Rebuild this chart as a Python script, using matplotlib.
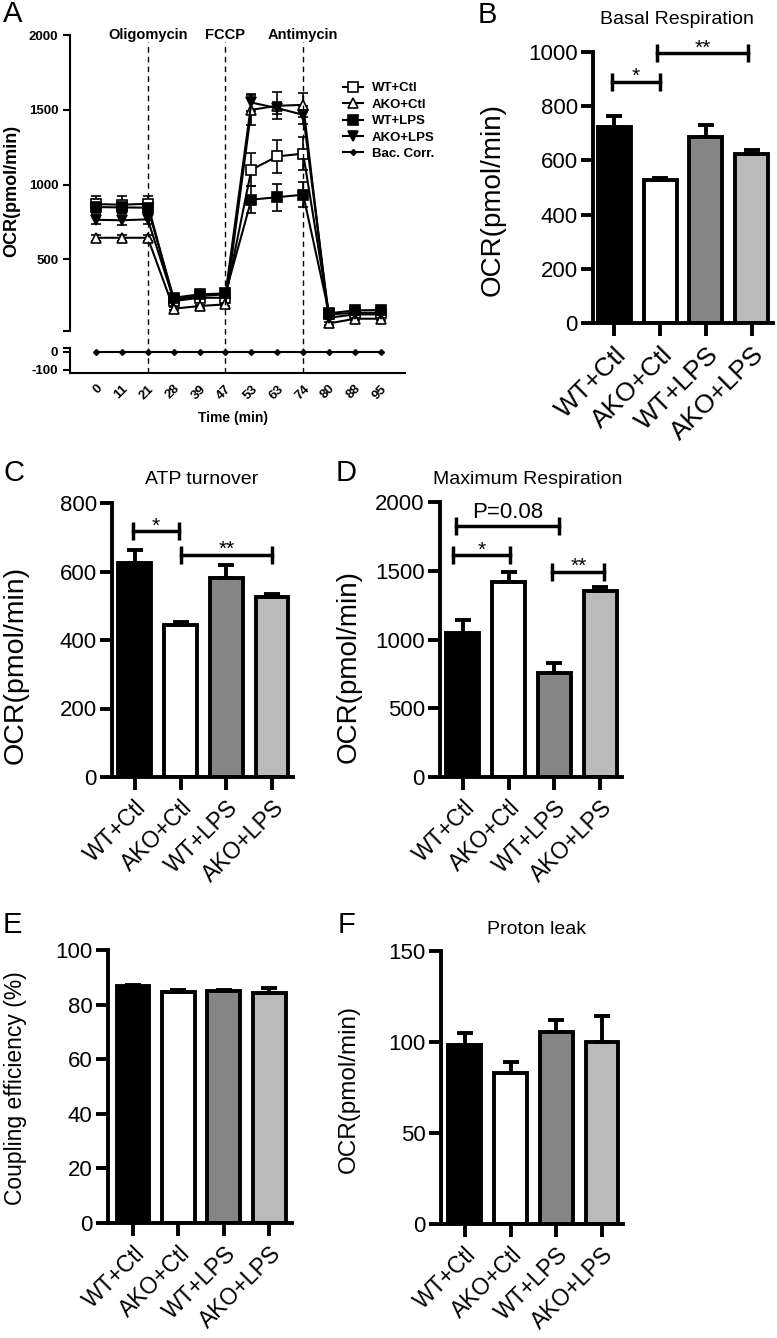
import matplotlib
matplotlib.use("Agg")
import matplotlib.pyplot as plt
import matplotlib.transforms as mtransforms
import numpy as np

plt.rcParams["font.family"] = ["Liberation Sans", "DejaVu Sans"]

W, H = 777, 1338

# ---- panel A: Seahorse trace -------------------------------------------
time_labels = ["0", "11", "21", "28", "39", "47", "53", "63", "74", "80", "88", "95"]
injections = ["Oligomycin", "FCCP", "Antimycin"]
injection_idx = [2, 5, 8]

wt_ctl = [870, 866, 872, 222, 244, 244, 1100, 1189, 1207, 133, 144, 144]
wt_ctl_err = [55, 55, 55, 15, 15, 15, 110, 110, 110, 15, 15, 15]
ako_ctl = [645, 645, 645, 171, 189, 200, 1500, 1527, 1533, 73, 104, 104]
ako_ctl_err = [20, 20, 20, 10, 10, 10, 100, 90, 80, 10, 10, 10]
wt_lps = [850, 848, 846, 244, 267, 273, 900, 916, 933, 140, 160, 162]
wt_lps_err = [40, 40, 40, 15, 15, 15, 90, 90, 85, 12, 12, 12]
ako_lps = [765, 762, 768, 233, 256, 267, 1549, 1511, 1467, 111, 133, 133]
ako_lps_err = [30, 30, 30, 12, 12, 12, 55, 40, 60, 12, 12, 12]
bac_corr = [0, 0, 0, 0, 0, 0, 0, 0, 0, 0, 0, 0]

# ---- bar panels ------------------------------------------------------------
groups = ["WT+Ctl", "AKO+Ctl", "WT+LPS", "AKO+LPS"]
bar_colors = ["#000000", "#ffffff", "#858585", "#bababa"]

basal = [725, 528, 685, 625]
basal_err = [40, 6, 45, 13]
atp = [625, 445, 580, 525]
atp_err = [38, 7, 40, 9]
maxresp = [1050, 1420, 760, 1350]
maxresp_err = [90, 68, 72, 32]
coupling = [86.8, 84.7, 84.8, 84.4]
coupling_err = [0.3, 0.8, 0.5, 1.5]
leak = [98.5, 83, 105.5, 100]
leak_err = [6.5, 6, 6.5, 14.5]

# brackets: (x1, x2, y, label)
basal_sig = [(-0.04, 0.99, 890, "*"), (0.93, 2.92, 995, "**")]
atp_sig = [(-0.04, 0.96, 717, "*"), (1.02, 2.99, 649, "**")]
max_sig = [(-0.15, 2.11, 1823, "P=0.08"), (-0.22, 1.04, 1612, "*"), (1.96, 3.09, 1491, "**")]


def box(l, t, r, b):
    return [l / W, 1 - b / H, (r - l) / W, (b - t) / H]


def fx(x):
    return x / W


def fy(y):
    return 1 - y / H


fig = plt.figure(figsize=(W / 100, H / 100), dpi=100)

# ---- panel A --------------------------------------------------------------
ax_hi = fig.add_axes(box(70, 35, 405, 331))
ax_lo = fig.add_axes(box(70, 348, 405, 373))
x = np.arange(len(time_labels))

series = [
    ("WT+Ctl", wt_ctl, wt_ctl_err, "s", "white", 7),
    ("AKO+Ctl", ako_ctl, ako_ctl_err, "^", "white", 7.5),
    ("WT+LPS", wt_lps, wt_lps_err, "s", "black", 7),
    ("AKO+LPS", ako_lps, ako_lps_err, "v", "black", 7.5),
]
handles = []
for name, vals, errs, mk, fc, ms in series:
    ax_hi.errorbar(x, vals, yerr=errs, fmt="none", ecolor="black", elinewidth=1.2,
                   capsize=3.5, capthick=1.2, zorder=2)
    h, = ax_hi.plot(x, vals, marker=mk, ms=ms, mfc=fc, mec="black", mew=1.2,
                    color="black", lw=1.5, label=name, zorder=3)
    handles.append(h)
h, = ax_lo.plot(x, bac_corr, marker="D", ms=3, color="black", lw=1.5,
                label="Bac. Corr.", zorder=3)
handles.append(h)

for ax in (ax_hi, ax_lo):
    ax.set_xlim(-1, 11.93)
    ax.spines[["top", "right"]].set_visible(False)
    for s in ax.spines.values():
        s.set_linewidth(1.5)
    ax.tick_params(width=1.5, length=5, labelsize=9.5)
ax_hi.spines["bottom"].set_visible(False)
ax_hi.set_ylim(22, 2000)
ax_hi.set_yticks([22, 500, 1000, 1500, 2000])
ax_hi.set_yticklabels(["", "500", "1000", "1500", "2000"], fontweight="bold")
ax_hi.tick_params(axis="x", bottom=False, labelbottom=False)
ax_lo.set_ylim(-117, 22)
ax_lo.set_yticks([-100, 0, 22])
ax_lo.set_yticklabels(["-100", "0", ""], fontweight="bold")
ax_lo.set_xticks(x)
ax_lo.set_xticklabels(time_labels, rotation=45, ha="right", va="top",
                      rotation_mode="anchor", fontweight="bold")
ax_lo.tick_params(axis="x", length=0, pad=7)

# injection lines run through both segments of the broken axis
trans = mtransforms.blended_transform_factory(ax_lo.transData, fig.transFigure)
for i, name in zip(injection_idx, injections):
    fig.add_artist(plt.Line2D([i, i], [fy(373), fy(42)], transform=trans,
                              color="black", lw=1.0, ls=(0, (4, 3))))
    fig.text(i, fy(35), name, transform=trans, fontsize=10.5, fontweight="bold",
             ha="center", va="center")

fig.text(fx(233), fy(418), "Time (min)", fontsize=10, fontweight="bold",
         ha="center", va="center")
fig.text(fx(12), fy(191), "OCR(pmol/min)", fontsize=13, fontweight="bold",
         rotation=90, ha="center", va="center")
fig.legend(handles=handles, loc="upper left",
           bbox_to_anchor=(fx(343), fy(82)), bbox_transform=fig.transFigure,
           frameon=False, borderpad=0, borderaxespad=0, handlelength=1.5,
           handletextpad=0.7, labelspacing=0.32, numpoints=1,
           prop={"weight": "bold", "size": 9.5})


# ---- bar panels -------------------------------------------------------------
def bar_panel(rect, vals, errs, ylim, yticks, xlim, ylabel, ylab_xy, ylab_size,
              title=None, title_xy=None, sig=(), xlab_size=16.5):
    ax = fig.add_axes(box(*rect))
    pos = np.arange(len(groups))
    ax.bar(pos, vals, width=0.72, color=bar_colors, edgecolor="black",
           linewidth=2.8, zorder=2)
    ax.errorbar(pos, vals, yerr=[np.zeros(len(errs)), errs], fmt="none",
                ecolor="black", elinewidth=2.8, capsize=6, capthick=2.8, zorder=3)
    ax.set_xlim(*xlim)
    ax.set_ylim(*ylim)
    ax.set_yticks(yticks)
    ax.set_xticks(pos)
    ax.set_xticklabels(groups, rotation=45, ha="right", va="top",
                       rotation_mode="anchor", fontsize=xlab_size)
    ax.spines[["top", "right"]].set_visible(False)
    for s in ax.spines.values():
        s.set_linewidth(2.8)
    ax.tick_params(width=2.8, length=9, pad=2)
    ax.tick_params(axis="y", labelsize=16)
    ax.tick_params(axis="x", pad=5)
    fig.text(fx(ylab_xy[0]), fy(ylab_xy[1]), ylabel, fontsize=ylab_size,
             rotation=90, ha="center", va="center")
    if title:
        fig.text(fx(title_xy[0]), fy(title_xy[1]), title, fontsize=14,
                 ha="center", va="center")
    for x1, x2, y, lab in sig:
        ax.plot([x1, x2], [y, y], color="black", lw=2.5, marker="|", ms=13,
                mew=2.5, clip_on=False, zorder=4)
        off = 6 if lab.startswith("P") else 0
        ax.annotate(lab, ((x1 + x2) / 2, y), xytext=(0, off),
                    textcoords="offset points", ha="center", va="baseline",
                    fontsize=16 if lab.startswith("P") else 15,
                    annotation_clip=False)
    return ax


bar_panel((593, 52, 773, 323), basal, basal_err, (0, 1000), range(0, 1001, 200),
          (-0.46, 3.46), "OCR(pmol/min)", (493, 200), 20,
          "Basal Respiration", (677, 20), basal_sig, xlab_size=19)
bar_panel((112, 503, 293, 777), atp, atp_err, (0, 800), range(0, 801, 200),
          (-0.5, 3.46), "OCR(pmol/min)", (16, 665), 20.5,
          "ATP turnover", (202, 480), atp_sig)
bar_panel((440, 502, 622, 777), maxresp, maxresp_err, (0, 2000), range(0, 2001, 500),
          (-0.5, 3.48), "OCR(pmol/min)", (349, 667), 20,
          "Maximum Respiration", (528, 480), max_sig)
bar_panel((108, 950, 292, 1223), coupling, coupling_err, (0, 100), range(0, 101, 20),
          (-0.55, 3.5), "Coupling efficiency (%)", (16, 1088), 16.5)
bar_panel((441, 951, 623, 1224), leak, leak_err, (0, 150), range(0, 151, 50),
          (-0.52, 3.46), "OCR(pmol/min)", (349, 1089), 17.5,
          "Proton leak", (537, 930))

for lab, (px, py) in zip("ABCDEF", [(13, 14), (487, 15), (14, 473), (346, 473),
                                    (12, 925), (346, 925)]):
    fig.text(fx(px), fy(py), lab, fontsize=21, ha="center", va="center")

fig.savefig("out.png", dpi=100)
